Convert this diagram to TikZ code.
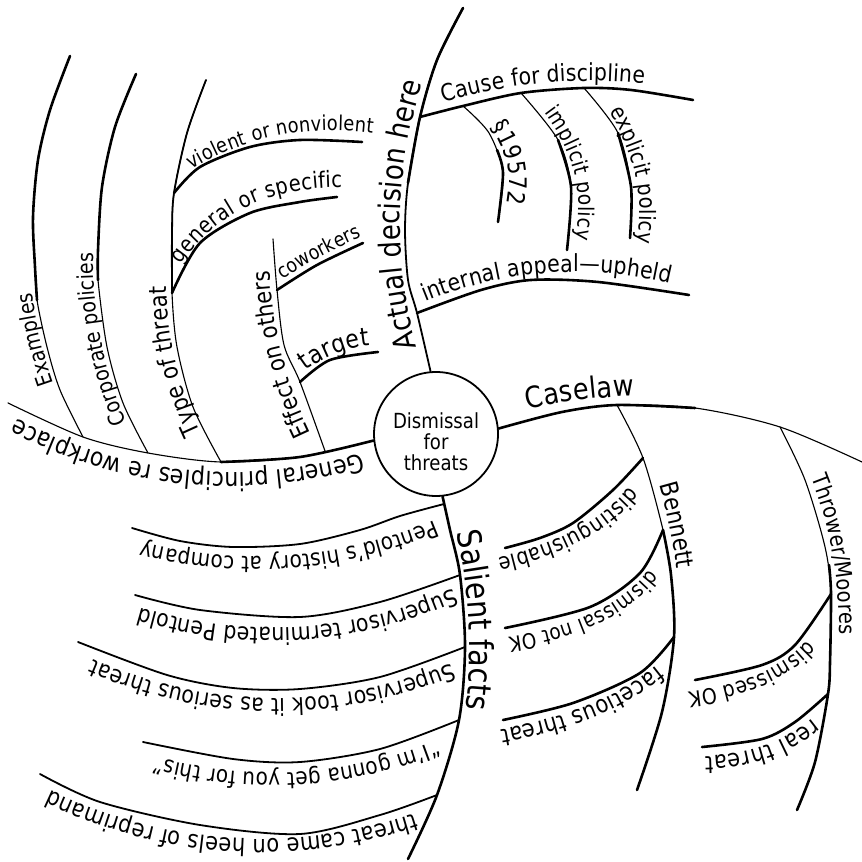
\documentclass[tikz,border=0pt]{standalone}
\usepackage{fontspec}
\setmainfont{DejaVu Sans}[FakeStretch=0.87]
\usetikzlibrary{decorations.text}

% one reference pixel is a quarter point; letters a bit taller, condensed to keep the widths
\newcommand{\tsz}[1]{\fontsize{\fpeval{#1*0.2875}}{\fpeval{#1*0.2875}}\selectfont}

\tikzstyle{hub} = [
    circle,
    minimum size=31pt,
    inner sep=0pt,
    draw=black,
    line width=0.45pt,
]
\tikzstyle{hubtext} = [
    align=center,
    font=\fontsize{5.2}{5.3}\selectfont,
]
\tikzstyle{heavy} = [
    line width=0.65pt,
    line cap=round,
]
\tikzstyle{medium} = [
    line width=0.45pt,
    line cap=round,
]
\tikzstyle{light} = [
    line width=0.28pt,
    line cap=round,
]
\tikzstyle{textpath} = [
    decorate,
    decoration={text along path, text align=center},
]

\begin{document}
\begin{tikzpicture}[x=0.25pt, y=-0.25pt]
        %%\draw[step=50,gray,very thin] (0,0) grid (862,862);
        \useasboundingbox (0,0) rectangle (862,862);
        \node (hub) [hub] at (436,434) {};
        \node (hubtext) [hubtext] at (436,442) {Dismissal\\for\\threats};

        % where the branches meet
        \coordinate (gp) at (hub.186);
        \coordinate (ad0) at (hub.95);
        \coordinate (cl0) at (hub.5);
        \coordinate (sf0) at (hub.276);
        \coordinate (ex0) at (83,437);
        \coordinate (co0) at (148,453);
        \coordinate (ty0) at (221,462);
        \coordinate (ef0) at (325,451);
        \coordinate (vi0) at (174,193);
        \coordinate (ge0) at (172,293);
        \coordinate (cw0) at (277,290);
        \coordinate (ta0) at (300,382);
        \coordinate (ca0) at (420,117);
        \coordinate (ia0) at (417,313);
        \coordinate (s0) at (463,106);
        \coordinate (im0) at (521,93);
        \coordinate (exp0) at (584,88);
        \coordinate (be0) at (617,405);
        \coordinate (th0) at (780,427);
        \coordinate (di0) at (643,458);
        \coordinate (dn0) at (663,530);
        \coordinate (fa0) at (674,637);
        \coordinate (do0) at (831,594);
        \coordinate (rt0) at (828,694);
        \coordinate (pe0) at (444,504);
        \coordinate (st0) at (460,575);
        \coordinate (ss0) at (465,647);
        \coordinate (ig0) at (459,720);
        \coordinate (tc0) at (437,795);

        % General principles
        \draw [light] plot [smooth] coordinates {(gp) (300,457) (ty0) (co0) (ex0) (8,403)};
        \draw [heavy] plot [smooth] coordinates {(gp) (300,457) (ty0)};
        \draw [light] plot [smooth] coordinates {(ex0) (60,390) (47,347) (37,300) (35,267) (33,217) (38,160) (50,110) (70,56)};
        \draw [heavy] plot [smooth] coordinates {(37,300) (35,267) (33,217) (38,160) (50,110) (70,56)};
        \draw [light] plot [smooth] coordinates {(co0) (123,403) (107,347) (98,280) (98,250) (102,187) (115,127) (136,74)};
        \draw [heavy] plot [smooth] coordinates {(98,280) (98,250) (102,187) (115,127) (136,74)};
        \draw [light] plot [smooth] coordinates {(ty0) (193,407) (177,347) (ge0) (172,233) (vi0) (187,133) (206,80)};
        \draw [medium] plot [smooth] coordinates {(ge0) (172,233) (vi0) (187,133) (206,80)};
        \draw [heavy] plot [smooth] coordinates {(vi0) (200,167) (250,147) (300,140) (362,142)};
        \draw [heavy] plot [smooth] coordinates {(ge0) (200,243) (250,213) (300,202) (337,197)};
        \draw [light] plot [smooth] coordinates {(ef0) (ta0) (284,345) (cw0) (273,239)};
        \draw [heavy] plot [smooth] coordinates {(cw0) (317,265) (363,243)};
        \draw [heavy] plot [smooth] coordinates {(ta0) (330,360) (378,352)};

        % Actual decision
        \draw [medium] plot [smooth] coordinates {(ad0) (ia0) (408,280) (405,230) (408,183) (ca0) (437,60) (463,8)};
        \draw [heavy] plot [smooth] coordinates {(408,183) (ca0) (437,60) (463,8)};
        \draw [heavy] plot [smooth] coordinates {(ca0) (s0) (im0) (exp0) (631,90) (693,100)};
        \draw [light] plot [smooth] coordinates {(s0) (489,133) (503,173) (498,222)};
        \draw [heavy] plot [smooth] coordinates {(497,150) (503,173) (498,222)};
        \draw [light] plot [smooth] coordinates {(im0) (558,140) (571,187) (567,250)};
        \draw [heavy] plot [smooth] coordinates {(558,140) (571,187) (567,250)};
        \draw [light] plot [smooth] coordinates {(exp0) (618,133) (631,187) (630,238)};
        \draw [heavy] plot [smooth] coordinates {(618,133) (631,187) (630,238)};
        \draw [heavy] plot [smooth] coordinates {(ia0) (481,290) (531,280) (598,282) (689,295)};

        % Caselaw
        \draw [light] plot [smooth] coordinates {(cl0) (562,412) (be0) (695,408) (th0) (862,462)};
        \draw [heavy] plot [smooth] coordinates {(cl0) (562,412) (be0) (695,408)};
        \draw [light] plot [smooth] coordinates {(be0) (di0) (dn0) (671,575) (fa0) (662,712) (637,790)};
        \draw [heavy] plot [smooth] coordinates {(dn0) (671,575) (fa0) (662,712) (637,790)};
        \draw [heavy] plot [smooth] coordinates {(di0) (613,490) (573,523) (540,538) (505,548)};
        \draw [heavy] plot [smooth] coordinates {(dn0) (640,573) (590,607) (505,628)};
        \draw [heavy] plot [smooth] coordinates {(fa0) (640,673) (573,703) (503,720)};
        \draw [light] plot [smooth] coordinates {(th0) (805,480) (825,547) (do0) (830,662) (rt0) (815,762) (797,810)};
        \draw [heavy] plot [smooth] coordinates {(829,565) (do0) (830,662) (rt0) (815,762) (797,810)};
        \draw [heavy] plot [smooth] coordinates {(do0) (795,645) (762,665) (695,680)};
        \draw [heavy] plot [smooth] coordinates {(rt0) (795,722) (762,739) (702,747)};

        % Salient facts
        \draw [heavy] plot [smooth] coordinates {(sf0) (450,530) (st0) (ss0) (ig0) (tc0) (408,859)};
        \draw [medium] plot [smooth] coordinates {(pe0) (400,516) (360,530) (300,544) (233,547) (180,541) (132,528)};
        \draw [medium] plot [smooth] coordinates {(st0) (380,602) (300,617) (200,610) (135,595)};
        \draw [medium] plot [smooth] coordinates {(ss0) (380,677) (300,689) (233,688) (167,675) (78,642)};
        \draw [medium] plot [smooth] coordinates {(ig0) (380,749) (300,762) (233,759) (143,742)};
        \draw [medium] plot [smooth] coordinates {(tc0) (380,815) (300,834) (200,825) (100,802) (40,774)};

        % labels
        \path [textpath, decoration={raise=2.5pt, text={|\tsz{22}|General principles re workplace}}] (373,440) .. controls (245,479) and (124,467) .. (8,403);
        \path [textpath, decoration={raise=1.25pt, text={|\tsz{19}|Examples}}] (66,402) .. controls (48,359) and (38,315) .. (35,270);
        \path [textpath, decoration={raise=1.25pt, text={|\tsz{19}|Corporate policies}}] (136,432) .. controls (108,371) and (96,307) .. (99,240);
        \path [textpath, decoration={raise=1.25pt, text={|\tsz{21}|Type of threat}}] (210,440) .. controls (183,387) and (170,332) .. (172,275);
        \path [textpath, decoration={raise=1.25pt, text={|\tsz{21}|Effect on others}}] (322,445) .. controls (291,386) and (275,322) .. (274,255);
        \path [textpath, decoration={raise=1.75pt, text={|\tsz{17.8}|violent or nonviolent}}] (184,183) .. controls (240,145) and (306,129) .. (385,142);
        \path [textpath, decoration={raise=1.75pt, text={|\tsz{19.5}|general or specific}}] (181,277) .. controls (217,220) and (273,191) .. (352,195);
        \path [textpath, decoration={raise=1.5pt, text={|\tsz{17.4}|coworkers}}] (280,288) .. controls (309,269) and (339,253) .. (370,240);
        \path [textpath, decoration={raise=1.5pt, text={|\tsz{22}|target}}] (302,381) .. controls (324,362) and (350,352) .. (380,351);
        \path [textpath, decoration={raise=1.5pt, text={|\tsz{26}|Actual decision here}}] (430,371) .. controls (396,267) and (398,163) .. (437,60);
        \path [textpath, decoration={raise=2pt, text={|\tsz{20.4}|Cause for discipline}}] (430,115) .. controls (505,90) and (582,83) .. (660,94);
        \path [textpath, decoration={raise=1.5pt, text={|\tsz{21}|§19572}}] (480,123) .. controls (502,149) and (508,179) .. (499,212);
        \path [textpath, decoration={raise=1.5pt, text={|\tsz{18.8}|implicit policy}}] (535,110) .. controls (569,152) and (580,197) .. (568,245);
        \path [textpath, decoration={raise=1.5pt, text={|\tsz{19.5}|explicit policy}}] (600,108) .. controls (630,154) and (640,201) .. (630,250);
        \path [textpath, decoration={raise=1.75pt, text={|\tsz{20.5}|internal appeal—upheld}}] (417,313) .. controls (501,276) and (589,269) .. (680,293);
        \path [textpath, decoration={raise=2.25pt, text={|\tsz{25.5}|Caselaw}}] (500,427) .. controls (554,410) and (609,403) .. (665,406);
        \path [textpath, decoration={raise=2pt, text={|\tsz{21.5}|Bennett}}] (636,445) .. controls (654,483) and (667,540) .. (674,615);
        \path [textpath, decoration={raise=2pt, text={|\tsz{19.5}|distinguishable}}] (633,468) .. controls (605,512) and (554,540) .. (480,553);
        \path [textpath, decoration={raise=2pt, text={|\tsz{18.5}|dismissal not OK}}] (652,550) .. controls (627,596) and (573,623) .. (490,631);
        \path [textpath, decoration={raise=2pt, text={|\tsz{21}|facetious threat}}] (662,650) .. controls (621,688) and (562,713) .. (485,724);
        \path [textpath, decoration={raise=1.75pt, text={|\tsz{19.5}|Thrower/Moores}}] (790,448) .. controls (825,518) and (838,592) .. (830,670);
        \path [textpath, decoration={raise=2pt, text={|\tsz{19}|dismissed OK}}] (815,617) .. controls (790,659) and (740,682) .. (665,686);
        \path [textpath, decoration={raise=2pt, text={|\tsz{21}|real threat}}] (815,706) .. controls (782,736) and (742,750) .. (695,748);
        \path [textpath, decoration={raise=1.25pt, text={|\tsz{28.5}|Salient facts}}] (446,513) .. controls (466,585) and (470,657) .. (458,730);
        \path [textpath, decoration={raise=2.75pt, text={|\tsz{20}|Pentold's history at company}}] (444,504) .. controls (342,550) and (237,558) .. (130,528);
        \path [textpath, decoration={raise=2.5pt, text={|\tsz{20.5}|Supervisor terminated Pentold}}] (462,574) .. controls (354,625) and (243,631) .. (130,594);
        \path [textpath, decoration={raise=2.5pt, text={|\tsz{20.5}|Supervisor took it as serious threat}}] (467,646) .. controls (337,704) and (207,703) .. (78,642);
        \path [textpath, decoration={raise=2.5pt, text={|\tsz{20}|“I'm gonna get you for this”}}] (459,720) .. controls (353,770) and (243,776) .. (130,739);
        \path [textpath, decoration={raise=2.5pt, text={|\tsz{21}|threat came on heels of reprimand}}] (437,795) .. controls (298,848) and (162,839) .. (30,769);
\end{tikzpicture}
\end{document}
